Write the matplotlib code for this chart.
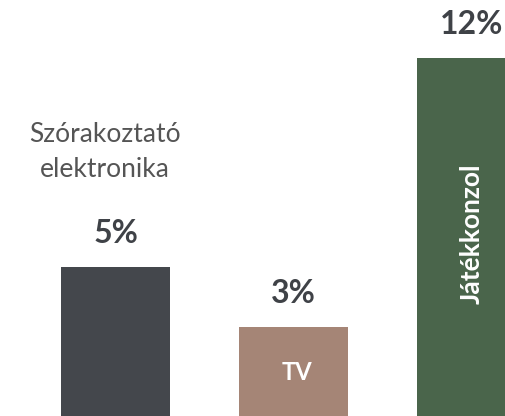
import matplotlib
matplotlib.use("Agg")
import matplotlib.pyplot as plt

# data
categories = ["Szórakoztató\nelektronika", "TV", "Játékkonzol"]
values = [5, 3, 12]
value_labels = ["5%", "3%", "12%"]
colors = ["#44474c", "#a58576", "#4a654b"]

plt.rcParams['font.family'] = ['Lato', 'DejaVu Sans']

fig = plt.figure(figsize=(5.06, 4.16), dpi=100)
ax = fig.add_axes([0, 0, 1, 1])

x = list(range(len(values)))
ax.bar(x, values, width=0.607, color=colors)

ax.set_xlim(-0.649, 2.194)
ax.set_ylim(0, 13.95)
ax.axis('off')

# percentage labels above bars
for xi, v, lab in zip(x, values, value_labels):
    ax.annotate(lab, (xi, v), xytext=(0, 19), textcoords='offset pixels',
                ha='center', va='bottom', fontsize=23, fontweight='bold',
                color='#3f4247')

# category label above first bar
ax.annotate(categories[0], (x[0], values[0]), xytext=(-11, 85), textcoords='offset pixels',
            ha='center', va='bottom', fontsize=19, color='#555555',
            linespacing=1.5)

# labels inside the bars
ax.text(x[1] + 0.02, 1.45, categories[1], ha='center', va='center', fontsize=17,
        fontweight='bold', color='white')
ax.text(x[2], 6.1, categories[2], ha='center', va='center', fontsize=19,
        fontweight='bold', color='white', rotation=90)

fig.savefig("out.png", dpi=100)
